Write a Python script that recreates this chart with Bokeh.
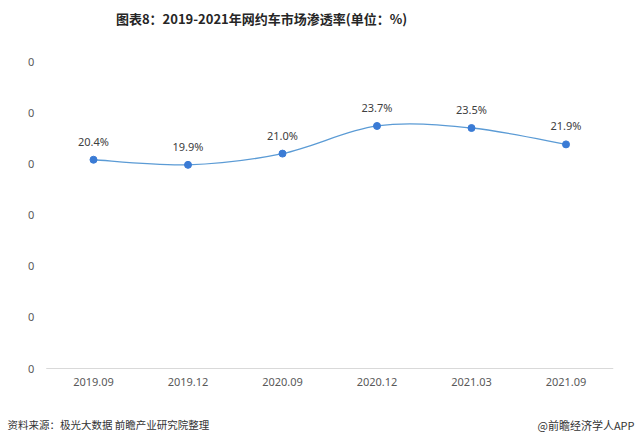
from bokeh.plotting import figure
from bokeh.models import Range1d, FixedTicker, LabelSet, ColumnDataSource
from bokeh.core.properties import value
from bokeh.embed import file_html
from bokeh.resources import INLINE

categories = ["2019.09", "2019.12", "2020.09", "2020.12", "2021.03", "2021.09"]
rates = [20.4, 19.9, 21.0, 23.7, 23.5, 21.9]
y_ticks = [0, 5, 10, 15, 20, 25, 30]
title_text = "图表8：2019-2021年网约车市场渗透率(单位：%)"
source_text = "资料来源：极光大数据 前瞻产业研究院整理"
brand_text = "@前瞻经济学人APP"

# ---- layout geometry (pixels on the canvas) ----
W, H = 636, 438
X_FIRST_PX = 93.0            # centre of first category
PX_PER_CAT = 94.5
Y_ZERO_PX = 368.0            # baseline (value 0)
PX_PER_UNIT = (368.0 - 61.0) / 30.0


def dx(px):
    return (px - X_FIRST_PX) / PX_PER_CAT


def dy(py):
    return (Y_ZERO_PX - py) / PX_PER_UNIT


p = figure(width=W, height=H, output_backend="svg", toolbar_location=None,
           x_range=Range1d(dx(0), dx(W)), y_range=Range1d(dy(H), dy(0)),
           min_border=0, min_border_left=0, min_border_right=0,
           min_border_top=0, min_border_bottom=0)
p.outline_line_color = None
p.xgrid.grid_line_color = None
p.ygrid.grid_line_color = None

n = len(categories)
xs = list(range(n))
labels = [f"{v:.1f}%" for v in rates]

# x axis at value 0
p.xaxis.fixed_location = 0
p.xaxis.ticker = FixedTicker(ticks=xs)
p.xaxis.major_label_overrides = {i: c for i, c in enumerate(categories)}
p.xaxis.axis_line_color = None
p.xaxis.major_tick_line_color = None
p.xaxis.minor_tick_line_color = None
p.xaxis.major_tick_out = 0
p.xaxis.major_tick_in = 0
p.xaxis.major_label_text_font = "Noto Sans"
p.xaxis.major_label_text_font_size = "11px"
p.xaxis.major_label_text_color = "#595959"
p.xaxis.major_label_standoff = 9

# y axis at left edge of the category band
p.yaxis.fixed_location = -0.5
p.yaxis.ticker = FixedTicker(ticks=y_ticks)
p.yaxis.major_label_overrides = {t: "0" for t in y_ticks}
p.yaxis.axis_line_color = None
p.yaxis.major_tick_line_color = None
p.yaxis.minor_tick_line_color = None
p.yaxis.major_tick_out = 0
p.yaxis.major_tick_in = 0
p.yaxis.major_label_text_font = "Noto Sans"
p.yaxis.major_label_text_font_size = "11px"
p.yaxis.major_label_text_color = "#595959"
p.yaxis.major_label_standoff = 12

# baseline across the category band
p.segment(x0=[-0.5], y0=[0], x1=[n - 0.5], y1=[0], line_color="#d9d9d9", line_width=1)

# smooth curve (Catmull-Rom -> cubic bezier segments)
def pt(i):
    i = max(0, min(n - 1, i))
    return xs[i], rates[i]


x0, y0, x1, y1, cx0, cy0, cx1, cy1 = [], [], [], [], [], [], [], []
for i in range(n - 1):
    pa, pb, pc, pd = pt(i - 1), pt(i), pt(i + 1), pt(i + 2)
    x0.append(pb[0]); y0.append(pb[1]); x1.append(pc[0]); y1.append(pc[1])
    cx0.append(pb[0] + (pc[0] - pa[0]) / 6); cy0.append(pb[1] + (pc[1] - pa[1]) / 6)
    cx1.append(pc[0] - (pd[0] - pb[0]) / 6); cy1.append(pc[1] - (pd[1] - pb[1]) / 6)
p.bezier(x0=x0, y0=y0, x1=x1, y1=y1, cx0=cx0, cy0=cy0, cx1=cx1, cy1=cy1,
         line_color="#5b9bd5", line_width=1.3)

src = ColumnDataSource(dict(x=xs, y=rates, lab=labels))
p.scatter("x", "y", source=src, size=7, fill_color="#3a7bd5", line_color="#3a7bd5")
p.add_layout(LabelSet(x="x", y="y", text="lab", source=src, y_offset=11,
                      text_align="center", text_baseline="bottom",
                      text_font=value("Noto Sans"), text_font_size="11px",
                      text_color="#404040"))

# title and footer
p.text(x=[dx(261)], y=[dy(18)], text=[title_text], text_align="center", text_baseline="middle",
       text_font=value("Noto Sans CJK SC"), text_font_style="bold",
       text_font_size="13px", text_color="#262626")
p.text(x=[dx(7)], y=[dy(424)], text=[source_text], text_align="left", text_baseline="middle",
       text_font=value("Noto Sans CJK SC"), text_font_size="10.5px", text_color="#333333")
p.text(x=[dx(634)], y=[dy(424)], text=[brand_text], text_align="right", text_baseline="middle",
       text_font=value("Noto Sans CJK SC"), text_font_size="11px", text_color="#333333")

open("out.html", "w").write(file_html(p, INLINE))
